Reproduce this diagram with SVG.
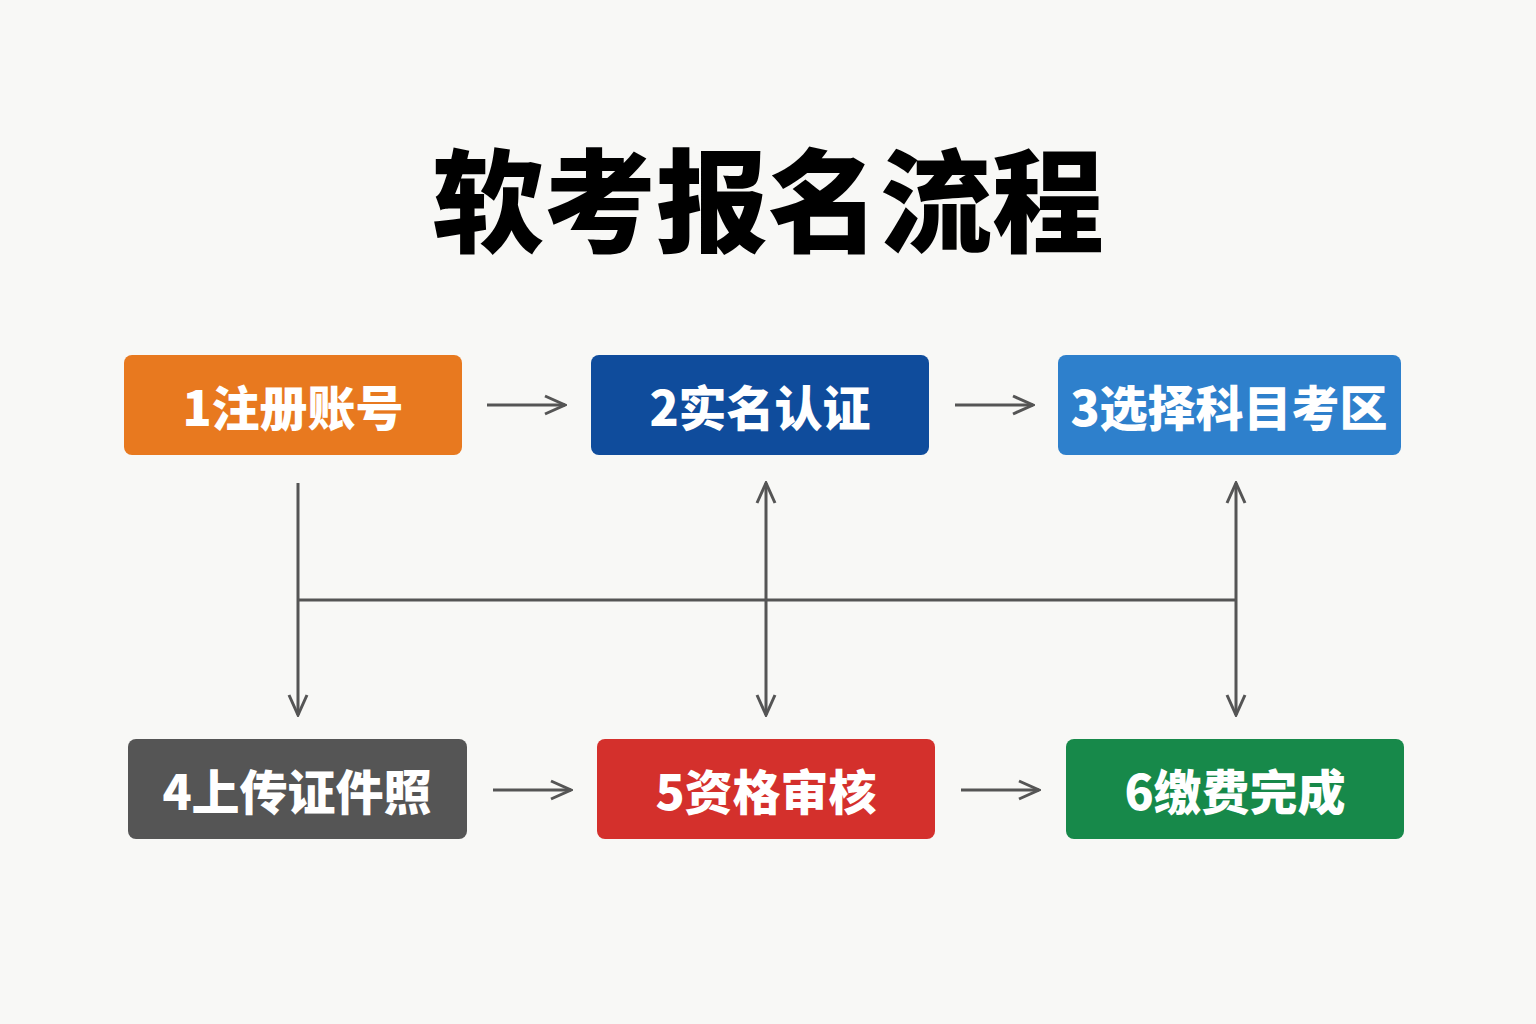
<svg xmlns="http://www.w3.org/2000/svg" width="1536" height="1024" viewBox="0 0 1536 1024">
<defs>
<marker id="ah" markerWidth="10" markerHeight="10" refX="9" refY="5" orient="auto-start-reverse" markerUnits="userSpaceOnUse" viewBox="0 0 10 10"><path d="M0,0 L10,5 L0,10 Z" fill="#555"/></marker>
<marker id="ahb" markerWidth="24" markerHeight="22" refX="22" refY="11" orient="auto-start-reverse" markerUnits="userSpaceOnUse"><path d="M2,2 L22,11 L2,20" fill="none" stroke="#555" stroke-width="3"/></marker>
</defs>
<style>
.t{font-family:"Noto Sans CJK SC","Liberation Sans",sans-serif;font-weight:900;fill:#fff;font-size:48px;text-anchor:middle;dominant-baseline:central}
.c{stroke:#555;stroke-width:3;fill:none}
</style>
<rect width="1536" height="1024" fill="#f8f8f6"/>
<text x="768" y="195" style="font-family:'Noto Sans CJK SC',sans-serif;font-weight:900;font-size:112px;text-anchor:middle;dominant-baseline:central;fill:#000">软考报名流程</text>
<g id="n1"><rect x="124" y="355" width="338" height="100" rx="8" fill="#E8791F"/><text class="t" x="293" y="405">1注册账号</text></g>
<g id="n2"><rect x="591" y="355" width="338" height="100" rx="8" fill="#0F4C9C"/><text class="t" x="760" y="405">2实名认证</text></g>
<g id="n3"><rect x="1058" y="355" width="343" height="100" rx="8" fill="#2E80CC"/><text class="t" x="1229" y="405">3选择科目考区</text></g>
<g id="n4"><rect x="128" y="739" width="339" height="100" rx="8" fill="#555555"/><text class="t" x="297" y="789">4上传证件照</text></g>
<g id="n5"><rect x="597" y="739" width="338" height="100" rx="8" fill="#D4302C"/><text class="t" x="766" y="789">5资格审核</text></g>
<g id="n6"><rect x="1066" y="739" width="338" height="100" rx="8" fill="#17894A"/><text class="t" x="1235" y="789">6缴费完成</text></g>
<g id="connectors">
<path class="c" d="M487,405 H565" marker-end="url(#ahb)"/>
<path class="c" d="M955,405 H1033" marker-end="url(#ahb)"/>
<path class="c" d="M493,790 H571" marker-end="url(#ahb)"/>
<path class="c" d="M961,790 H1039" marker-end="url(#ahb)"/>
<path class="c" d="M298,483 V715" marker-end="url(#ahb)"/>
<path class="c" d="M298,600 H1236"/>
<path class="c" d="M766,483 V715" marker-start="url(#ahb)" marker-end="url(#ahb)"/>
<path class="c" d="M1236,483 V715" marker-start="url(#ahb)" marker-end="url(#ahb)"/>
</g>
</svg>
